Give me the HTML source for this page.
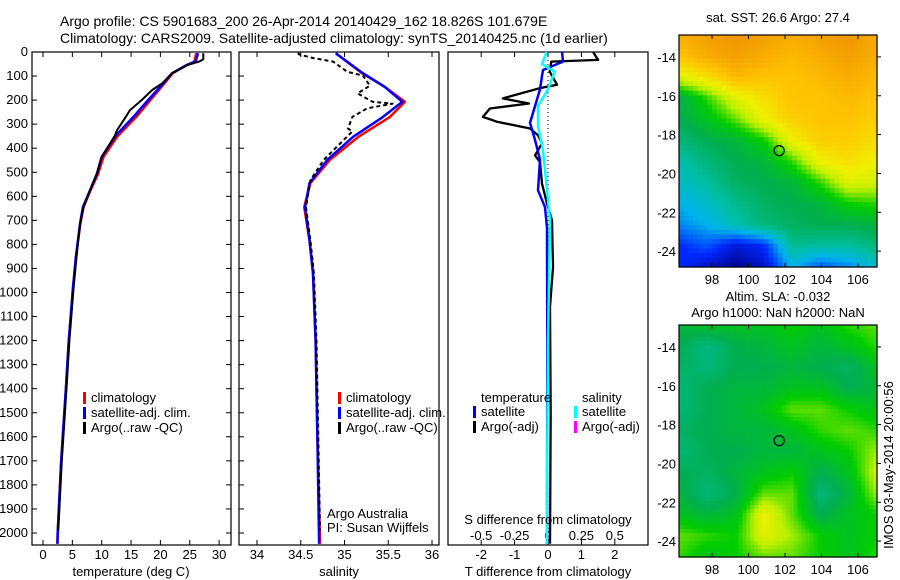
<!DOCTYPE html>
<html><head><meta charset="utf-8">
<style>
html,body{margin:0;padding:0;background:#fff;}
svg{display:block;font-family:"Liberation Sans",sans-serif;}
text{font-size:13px;fill:#000;}
</style></head>
<body>
<svg id="fig" width="900" height="580" viewBox="0 0 900 580" xmlns="http://www.w3.org/2000/svg">
<text x="60" y="26" style="font-size:14px">Argo profile: CS 5901683_200 26-Apr-2014 20140429_162 18.826S 101.679E</text>
<text x="60" y="43" style="font-size:14px">Climatology: CARS2009. Satellite-adjusted climatology: synTS_20140425.nc (1d earlier)</text>
<g id="p1"></g>
<g id="p2"></g>
<g id="p3"></g>
<g id="m1"></g>
<g id="m2"></g>
<text transform="translate(893,465) rotate(-90)" text-anchor="middle">IMOS 03-May-2014 20:00:56</text>
</svg>
<script>
// ---------- data ----------
const depthTicks = [0,100,200,300,400,500,600,700,800,900,1000,1100,1200,1300,1400,1500,1600,1700,1800,1900,2000];
const tempTicks = [0,5,10,15,20,25,30];
const salTicks = [34,34.5,35,35.5,36];
const salTickLabels = ["34","34.5","35","35.5","36"];
const tdiffTicks = [-2,-1,0,1,2];
const sdiffTicks = [-0.5,-0.25,0,0.25,0.5];

const tDepth = [5,40,54,88,130,200,270,350,436,505,575,645,715,853,985,1200,1400,1700,2000,2045];
const tSat   = [26.4,26,24.5,22,20.5,17.9,15.4,12.3,10,9.2,8,6.8,6.3,5.6,5.1,4.4,3.9,3.1,2.5,2.45];
const tClim  = [26.1,25.8,24.5,22.1,20.7,18.3,15.9,12.7,10.3,9.4,8.1,6.9,6.35,5.6,5.1,4.4,3.9,3.1,2.5,2.45];
const tArgoDepth = [5,30,40,54,88,130,158,200,242,270,325,350,436,505,575,645,715,853,985,1200,1400,1700,1990];
const tArgo  = [27.3,27.3,26.6,24.6,22,20.3,18.6,16.8,14.8,14.1,12.6,12.2,10,9.2,8,6.9,6.3,5.7,5.2,4.5,4.0,3.2,2.6];

const sDepth = [5,88,145,207,270,352,450,545,645,783,920,1200,1600,2045];
const sSat   = [34.9,35.21,35.46,35.66,35.44,35.1,34.8,34.6,34.55,34.6,34.64,34.67,34.69,34.71];
const sClim  = [34.9,35.2,35.46,35.69,35.52,35.16,34.83,34.61,34.54,34.6,34.64,34.67,34.69,34.72];
const sArgoDepth = [3,10,25,40,82,98,140,172,207,215,234,270,318,330,395,450,533,645,783,920,1200,1600,1990];
const sArgo  = [34.47,34.48,34.64,34.87,35.03,35.21,35.29,35.15,35.32,35.55,35.26,35.09,35.04,35.09,34.91,34.76,34.61,34.56,34.61,34.65,34.68,34.70,34.72];

const dArgoDepth = [0,33,40,82,136,150,193,214,235,270,290,318,346,380,430,458,547,630,700,895,1060,1500,2045];
const dArgoT = [1.35,1.5,0.1,0.05,0.27,-0.24,-1.35,-0.57,-1.74,-1.95,-1.53,-0.54,-0.3,-0.18,-0.39,-0.24,-0.18,-0.03,0.12,0.15,0.06,0.08,0.06];
const dSatTDepth = [0,40,75,100,155,225,295,365,448,575,645,730,1200,2045];
const dSatT = [0.42,0.45,-0.15,-0.18,-0.24,-0.39,-0.54,-0.39,-0.24,-0.3,-0.09,-0.03,-0.02,-0.03];
const dSatSDepth = [0,50,82,155,225,310,400,560,700,1200,2045];
const dSatS = [-0.01,-0.045,0.05,0,-0.075,-0.075,-0.04,-0.01,0.015,0,-0.01];

const lonTicks = [98,100,102,104,106];
const latTicks = [-14,-16,-18,-20,-22,-24];
const argoLon = 101.679, argoLat = -18.826;
const sstGrid = [
 [.85,.88,.9,.88,.85,.88,.9,.85],
 [.8,.85,.88,.85,.82,.85,.88,.85],
 [.7,.75,.82,.8,.8,.82,.85,.82],
 [.5,.6,.7,.75,.8,.8,.82,.8],
 [.5,.55,.62,.72,.78,.8,.8,.78],
 [.45,.5,.52,.58,.72,.78,.78,.75],
 [.38,.45,.5,.52,.6,.72,.75,.72],
 [.35,.4,.48,.5,.52,.6,.7,.68],
 [.3,.35,.42,.48,.5,.52,.58,.6],
 [.25,.3,.38,.45,.48,.5,.5,.52],
 [.15,.2,.1,.15,.42,.4,.4,.45],
 [.15,.08,.02,.08,.3,.2,.25,.35]];
const slaGrid = [
 [.52,.55,.55,.55,.58,.55,.6,.62],
 [.5,.44,.5,.52,.55,.52,.55,.6],
 [.48,.45,.5,.5,.52,.5,.48,.55],
 [.45,.5,.52,.52,.55,.55,.5,.52],
 [.45,.5,.52,.55,.62,.62,.58,.55],
 [.48,.5,.52,.52,.55,.6,.62,.6],
 [.45,.5,.5,.52,.52,.55,.58,.65],
 [.5,.48,.52,.55,.58,.5,.55,.68],
 [.52,.45,.5,.62,.62,.45,.52,.65],
 [.55,.52,.55,.72,.62,.5,.55,.58],
 [.62,.6,.58,.7,.65,.58,.55,.58],
 [.6,.55,.58,.62,.62,.58,.55,.6]];

// ---------- helpers ----------
const NS = "http://www.w3.org/2000/svg";
function mk(parent, tag, attrs, txt){
  const e = document.createElementNS(NS, tag);
  for (const k in attrs) e.setAttribute(k, attrs[k]);
  if (txt !== undefined) e.textContent = txt;
  parent.appendChild(e); return e;
}
const TOP = 52, BOT = 545;
const yD = d => TOP + d * 0.2405;
function frame(g, x0, x1){
  const r = mk(g, "rect", {x:x0, y:TOP, width:x1-x0, height:BOT-TOP, fill:"none", stroke:"#000", "stroke-width":1.2});
  
  
}
function line(g, xs, ds, xf, color, w, dash, name){
  const pts = xs.map((v,i) => xf(v).toFixed(1) + "," + yD(ds[i]).toFixed(1)).join(" ");
  const p = mk(g, "polyline", {points:pts, fill:"none", stroke:color, "stroke-width":w, "stroke-linejoin":"round"});
  if (dash) p.setAttribute("stroke-dasharray", dash);
  
  
}
function legend(g, x, y, color, label){
  const b = mk(g, "rect", {x:x, y:y-10, width:3, height:12, fill:color});
  
  
  const t = mk(g, "text", {x:x+8, y:y}, label);
  
  
}

// ---------- panel 1: temperature ----------
const p1 = document.getElementById("p1");
const xT = v => 43 + v * 5.87;
frame(p1, 32, 231);
depthTicks.forEach(d => {
  mk(p1, "line", {x1:32, x2:37, y1:yD(d), y2:yD(d), stroke:"#000"});
  mk(p1, "line", {x1:226, x2:231, y1:yD(d), y2:yD(d), stroke:"#000"});
  const t = mk(p1, "text", {x:28, y:yD(d)+4, "text-anchor":"end"}, String(d));
  
  
});
tempTicks.forEach(v => {
  mk(p1, "line", {x1:xT(v), x2:xT(v), y1:TOP, y2:TOP+5, stroke:"#000"});
  mk(p1, "line", {x1:xT(v), x2:xT(v), y1:BOT, y2:BOT-5, stroke:"#000"});
  const t = mk(p1, "text", {x:xT(v), y:559, "text-anchor":"middle"}, String(v));
  
  
});
line(p1, tClim, tDepth, xT, "#f00", 2.5, null, "temp-climatology-line");
line(p1, tSat, tDepth, xT, "#00f", 2.5, null, "temp-satellite-line");
line(p1, tArgo, tArgoDepth, xT, "#000", 2, null, "temp-argo-line");
legend(p1, 83, 402, "#f00", "climatology");
legend(p1, 83, 417, "#00f", "satellite-adj. clim.");
legend(p1, 83, 432, "#000", "Argo(..raw -QC)");
mk(p1, "text", {x:131, y:576, "text-anchor":"middle",  }, "temperature (deg C)");

// ---------- panel 2: salinity ----------
const p2 = document.getElementById("p2");
const xS = v => 257 + (v - 34) * 87.5;
frame(p2, 239, 439);
depthTicks.forEach(d => mk(p2, "line", {x1:239, x2:244, y1:yD(d), y2:yD(d), stroke:"#000"}));
salTicks.forEach((v,i) => {
  mk(p2, "line", {x1:xS(v), x2:xS(v), y1:TOP, y2:TOP+5, stroke:"#000"});
  mk(p2, "line", {x1:xS(v), x2:xS(v), y1:BOT, y2:BOT-5, stroke:"#000"});
  const t = mk(p2, "text", {x:xS(v), y:559, "text-anchor":"middle"}, salTickLabels[i]);
  
  
});
line(p2, sClim, sDepth, xS, "#f00", 2.5, null, "sal-climatology-line");
line(p2, sSat, sDepth, xS, "#00f", 2.5, null, "sal-satellite-line");
line(p2, sArgo, sArgoDepth, xS, "#000", 2, "4,3", "sal-argo-line");
legend(p2, 338, 402, "#f00", "climatology");
legend(p2, 338, 417, "#00f", "satellite-adj. clim.");
legend(p2, 338, 432, "#000", "Argo(..raw -QC)");
mk(p2, "text", {x:327, y:518,  }, "Argo Australia");
mk(p2, "text", {x:327, y:532,  }, "PI: Susan Wijffels");
mk(p2, "text", {x:339, y:576, "text-anchor":"middle",  }, "salinity");

// ---------- panel 3: differences ----------
const p3 = document.getElementById("p3");
const xDT = v => 548 + v * 33.4;
const xDS = v => 548 + v * 133.6;
frame(p3, 448, 648);
mk(p3, "line", {x1:548, x2:548, y1:TOP, y2:BOT, stroke:"#000", "stroke-dasharray":"1,3",  });
tdiffTicks.forEach(v => {
  mk(p3, "line", {x1:xDT(v), x2:xDT(v), y1:TOP, y2:TOP+5, stroke:"#000"});
  mk(p3, "line", {x1:xDT(v), x2:xDT(v), y1:BOT, y2:BOT-5, stroke:"#000"});
  const t = mk(p3, "text", {x:xDT(v), y:559, "text-anchor":"middle"}, String(v));
  
  
});
sdiffTicks.forEach(v => {
  const t = mk(p3, "text", {x:xDS(v), y:540, "text-anchor":"middle"}, String(v));
  
  
});
line(p3, dArgoT, dArgoDepth, xDT, "#000", 2.3, null, "tdiff-argo-line");
line(p3, dSatT, dSatTDepth, xDT, "#00f", 2.5, null, "tdiff-satellite-line");
line(p3, dSatS, dSatSDepth, xDS, "#0ff", 2.5, null, "sdiff-satellite-line");
mk(p3, "text", {x:481, y:402,  }, "temperature");
legend(p3, 473, 416, "#00f", "satellite");
legend(p3, 473, 431, "#000", "Argo(-adj)");
mk(p3, "text", {x:582, y:402,  }, "salinity");
legend(p3, 574, 416, "#0ff", "satellite");
legend(p3, 574, 431, "#f0f", "Argo(-adj)");
mk(p3, "text", {x:548, y:524, "text-anchor":"middle",  }, "S difference from climatology");
mk(p3, "text", {x:548, y:576, "text-anchor":"middle",  }, "T difference from climatology");

// ---------- maps ----------
const stops = [[0,[0,0,128]],[0.15,[0,40,255]],[0.3,[0,180,235]],[0.4,[0,190,160]],[0.5,[0,175,80]],[0.58,[0,205,0]],[0.66,[190,240,0]],[0.72,[240,240,0]],[0.8,[255,195,0]],[0.9,[240,150,0]],[1,[210,90,0]]];
function cmap(v){
  v = Math.max(0, Math.min(1, v));
  for (let i = 1; i < stops.length; i++){
    if (v <= stops[i][0]){
      const a = stops[i-1], b = stops[i], f = (v - a[0]) / (b[0] - a[0]);
      const c = a[1].map((x,j) => Math.round(x + (b[1][j] - x) * f));
      return "rgb(" + c.join(",") + ")";
    }
  }
  return "rgb(210,90,0)";
}
function sample(grid, fx, fy){
  const R = grid.length, C = grid[0].length;
  const gx = Math.max(0, Math.min(C-1, fx*(C-1))), gy = Math.max(0, Math.min(R-1, fy*(R-1)));
  const x0 = Math.floor(gx), y0 = Math.floor(gy), x1 = Math.min(C-1, x0+1), y1 = Math.min(R-1, y0+1);
  const tx = gx - x0, ty = gy - y0;
  return grid[y0][x0]*(1-tx)*(1-ty) + grid[y0][x1]*tx*(1-ty) + grid[y1][x0]*(1-tx)*ty + grid[y1][x1]*tx*ty;
}
const LON0 = 96.19, LON1 = 107.04, LAT0 = -12.87, LAT1 = -24.82;
function drawMap(g, grid, x0, y0, w, h, nx, ny){
  const cw = w/nx, ch = h/ny;
  for (let j = 0; j < ny; j++) for (let i = 0; i < nx; i++){
    const c = mk(g, "rect", {x:(x0+i*cw).toFixed(2), y:(y0+j*ch).toFixed(2), width:(cw+0.6).toFixed(2), height:(ch+0.6).toFixed(2), fill:cmap(sample(grid, (i+0.5)/nx, (j+0.5)/ny))});
    
    
  }
  const xL = lon => x0 + (lon - LON0) / (LON1 - LON0) * w;
  const yL = lat => y0 + (lat - LAT0) / (LAT1 - LAT0) * h;
  const fr = mk(g, "rect", {x:x0, y:y0, width:w, height:h, fill:"none", stroke:"#000", "stroke-width":1.2});
  
  
  lonTicks.forEach(l => {
    mk(g, "line", {x1:xL(l), x2:xL(l), y1:y0, y2:y0+4, stroke:"#000"});
    mk(g, "line", {x1:xL(l), x2:xL(l), y1:y0+h, y2:y0+h-4, stroke:"#000"});
    const t = mk(g, "text", {x:xL(l), y:y0+h+17, "text-anchor":"middle"}, String(l));
    
    
  });
  latTicks.forEach(l => {
    mk(g, "line", {x1:x0+w, x2:x0+w+4, y1:yL(l), y2:yL(l), stroke:"#000"});
    const t = mk(g, "text", {x:x0-3, y:yL(l)+5, "text-anchor":"end"}, String(l));
    
    
  });
  const c = mk(g, "circle", {cx:xL(argoLon), cy:yL(argoLat), r:5, fill:"none", stroke:"#000", "stroke-width":1.2});
  
  
}
const m1 = document.getElementById("m1"), m2 = document.getElementById("m2");
drawMap(m1, sstGrid, 679, 35, 198, 232, 42, 50);
drawMap(m2, slaGrid, 679, 325, 198, 232, 50, 58);
mk(m1, "text", {x:778, y:22, "text-anchor":"middle",  }, "sat. SST: 26.6 Argo: 27.4");
mk(m2, "text", {x:778, y:301, "text-anchor":"middle",  }, "Altim. SLA: -0.032");
mk(m2, "text", {x:778, y:317, "text-anchor":"middle",  }, "Argo h1000: NaN h2000: NaN");
</script>
</body></html>
